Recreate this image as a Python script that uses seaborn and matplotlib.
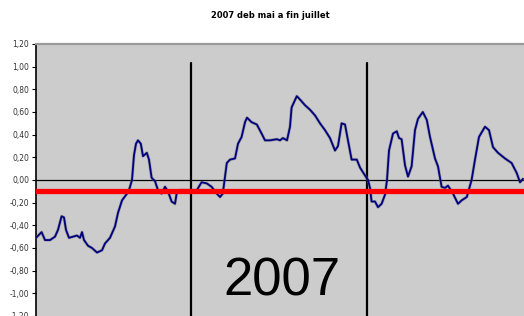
import matplotlib
matplotlib.use("Agg")
import matplotlib.pyplot as plt
import seaborn as sns
import pandas as pd

# Data (x: position index along the period, y: value)
days = [0, 1.4, 2.25, 3.5, 4.75, 5.5, 6.4, 7, 7.5, 8.25, 9.25, 10.25, 11, 11.5, 12,
        13, 14, 15.25, 16.5, 17.25, 18.5, 19.75, 20.5, 21.5, 22.75, 23.25, 24, 24.5,
        25, 25.5, 26.2, 26.75, 27.7, 28.25, 28.9, 29.75, 30.5, 31.4, 32.25, 33, 33.9,
        34.75, 35.25, 36, 37.7, 40.2, 41.4, 42.7, 43.9, 45.2, 46, 46.7, 47.25, 47.7,
        48.5, 49.75, 50.5, 51.4, 52.25, 52.75, 53.9, 55.2, 56.4, 57.25, 58.5, 60.2,
        61, 61.75, 62.75, 63.5, 63.9, 65.2, 66, 67.25, 68.5, 69.75, 71, 72.25, 73.5,
        74.75, 75.5, 76.4, 77.25, 78, 78.9, 80.2, 81, 82.25, 83, 83.5, 83.9, 84.75,
        85.5, 86.4, 87.25, 87.75, 88.25, 89.25, 90.2, 90.75, 91.4, 92.25, 93, 93.9,
        94.75, 95.5, 96.7, 97.7, 98.5, 99.75, 100.5, 101.4, 102.25, 103, 104.25,
        105.5, 106.4, 107.7, 108.9, 109.75, 110.75, 112.25, 113.25, 114.25, 115.5,
        117.25, 118.9, 120.2, 121, 121.75]
values = [-0.51, -0.46, -0.53, -0.53, -0.50, -0.44, -0.32, -0.33, -0.44, -0.51, -0.50,
          -0.49, -0.51, -0.46, -0.53, -0.58, -0.60, -0.64, -0.62, -0.56, -0.51, -0.41,
          -0.29, -0.18, -0.12, -0.09, 0.00, 0.22, 0.32, 0.35, 0.32, 0.21, 0.24, 0.18,
          0.02, -0.01, -0.09, -0.12, -0.06, -0.10, -0.19, -0.21, -0.10, -0.09, -0.09,
          -0.09, -0.02, -0.03, -0.06, -0.12, -0.15, -0.12, 0.03, 0.15, 0.18, 0.19,
          0.32, 0.38, 0.51, 0.55, 0.51, 0.49, 0.41, 0.35, 0.35, 0.36, 0.35, 0.37,
          0.35, 0.47, 0.64, 0.74, 0.71, 0.66, 0.62, 0.57, 0.50, 0.44, 0.37, 0.26,
          0.30, 0.50, 0.49, 0.35, 0.18, 0.18, 0.11, 0.04, 0.00, -0.07, -0.19, -0.19,
          -0.24, -0.21, -0.13, 0.00, 0.26, 0.41, 0.43, 0.37, 0.36, 0.13, 0.03, 0.12,
          0.44, 0.54, 0.60, 0.53, 0.38, 0.19, 0.12, -0.06, -0.07, -0.05, -0.12, -0.21,
          -0.18, -0.15, 0.00, 0.18, 0.38, 0.47, 0.44, 0.29, 0.24, 0.19, 0.15, 0.06,
          -0.02, 0.01]
threshold = -0.095
markers_x = [38.75, 82.75]
y_ticks = [1.2, 1.0, 0.8, 0.6, 0.4, 0.2, 0.0, -0.2, -0.4, -0.6, -0.8, -1.0, -1.2]
title = "2007 deb mai a fin juillet"
big_label = "2007"

df = pd.DataFrame({"day": days, "value": values})

sns.set_style("white")
plt.rcParams['font.family'] = ['DejaVu Sans']

fig = plt.figure(figsize=(5.24, 3.16), dpi=100)
ax = fig.add_axes([36 / 524, 0.0, 1 - 36 / 524, (316 - 44) / 316])
ax.set_facecolor("#cccccc")

# zero line
ax.axhline(0, color="black", lw=0.9, zorder=1)
# vertical markers
for xv in markers_x:
    ax.plot([xv, xv], [1.03, -1.25], color="black", lw=1.6, zorder=2)

sns.lineplot(data=df, x="day", y="value", ax=ax, color="#707070", lw=2.2,
             estimator=None, sort=False, zorder=3, alpha=0.5)
sns.lineplot(data=df, x="day", y="value", ax=ax, color="#000080", lw=1.3,
             estimator=None, sort=False, zorder=4)

ax.axhline(threshold, color="#ff0000", lw=3.8, zorder=5)

ax.set_xlim(0, 122)
ax.set_ylim(-1.2, 1.2)
ax.set_yticks(y_ticks)
ax.set_yticklabels([f"{v:.2f}".replace(".", ",") for v in y_ticks])
ax.set_xticks([])
ax.set_xlabel("")
ax.set_ylabel("")
ax.tick_params(axis="y", direction="out", length=3, width=0.8, labelsize=5.5,
               labelcolor="#333333", pad=2, left=True, color="black")

for s in ["right", "bottom"]:
    ax.spines[s].set_visible(False)
ax.spines["left"].set_color("black")
ax.spines["left"].set_linewidth(1.2)
ax.spines["top"].set_color("#9a9a9a")
ax.spines["top"].set_linewidth(1.6)

ax.text(61.5, -0.90, big_label, fontsize=38, family="Liberation Sans",
        ha="center", va="center", color="black", zorder=6)

fig.text(270 / 524, 1 - 16 / 316, title, fontsize=6, fontweight="bold",
         ha="center", va="center", color="black")

fig.savefig("out.png", dpi=100)
